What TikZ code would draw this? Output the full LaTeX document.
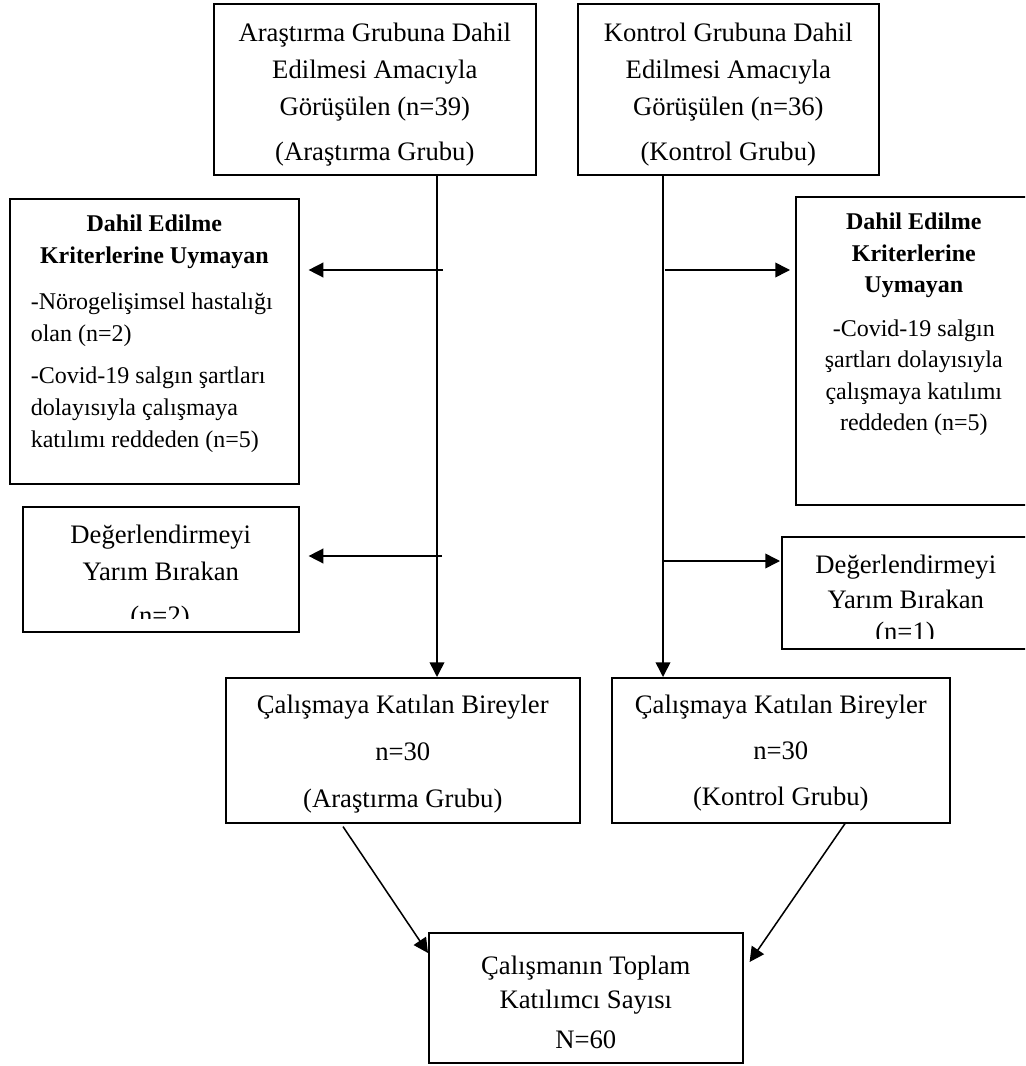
\documentclass[tikz,border=0pt]{standalone}
\usepackage{fontspec}
\setmainfont{Liberation Serif}
\usetikzlibrary{arrows.meta,calc}
\newlength\pxu
\setlength\pxu{0.75pt}
\newcommand\bxc[4]{\parbox[c][#2\pxu][t]{#1\pxu}{\vspace*{#3\pxu}#4}}
\newcommand\fst{\rule{0pt}{20\pxu}}
\tikzset{
  box/.style={draw, line width=1.2pt, inner sep=0pt, anchor=north west},
  arr/.style={line width=1.15pt, -{Triangle[length=11pt,width=11pt]}},
  plain/.style={inner sep=0pt, anchor=base},
}
\begin{document}
\begin{tikzpicture}[x=0.75pt,y=-0.75pt]
\useasboundingbox (0,0) rectangle (1025,1066);
\clip (0,0) rectangle (1025,1066);

% top boxes
\node[box, font=\fontsize{20}{27.75}\selectfont] (TL) at (213,3)
  {\bxc{322}{171}{18}{\centering\fst Araştırma Grubuna Dahil\\Edilmesi Amacıyla\\Görüşülen (n=39)\\[8\pxu](Araştırma Grubu)\par}};
\node[box, font=\fontsize{20}{27.75}\selectfont] (TR) at (577,3)
  {\bxc{301}{171}{18}{\centering\fst Kontrol Grubuna Dahil\\Edilmesi Amacıyla\\Görüşülen (n=36)\\[8\pxu](Kontrol Grubu)\par}};

% criteria boxes
\node[box, font=\fontsize{18}{24}\selectfont] (CL) at (9,198)
  {\bxc{289}{285}{13}{{\centering\bfseries\fst Dahil Edilme\\Kriterlerine Uymayan\par}\vspace{14\pxu}{\raggedright\leftskip=21\pxu -Nörogelişimsel hastalığı\\olan (n=2)\par}\vspace{10\pxu}{\raggedright\leftskip=21\pxu -Covid-19 salgın şartları\\dolayısıyla çalışmaya\\katılımı reddeden (n=5)\par}}};
\node[box, font=\fontsize{18}{23.625}\selectfont] (CR) at (795,196)
  {\bxc{236}{308}{13}{{\centering\bfseries\fst Dahil Edilme\\Kriterlerine\\Uymayan\par}\vspace{12\pxu}{\centering -Covid-19 salgın\\şartları dolayısıyla\\çalışmaya katılımı\\reddeden (n=5)\par}}};

% drop-out boxes
\node[box, font=\fontsize{20}{27.75}\selectfont] (DL) at (22,506)
  {\bxc{276}{125}{17}{\centering\fst Değerlendirmeyi\\Yarım Bırakan\par}};
\begin{scope}
  \clip (22,506) rectangle (298,618);
  \node[plain, font=\fontsize{20}{24}\selectfont] (DLn) at (160,624) {(n=2)};
\end{scope}
\node[box, font=\fontsize{20}{26.25}\selectfont] (DR) at (781,536)
  {\bxc{248}{112}{17}{\centering\fst Değerlendirmeyi\\Yarım Bırakan\par}};
\begin{scope}
  \clip (781,536) rectangle (1029,638);
  \node[plain, font=\fontsize{20}{24}\selectfont] (DRn) at (905,640) {(n=1)};
\end{scope}

% middle boxes
\node[box, font=\fontsize{20}{35.25}\selectfont] (ML) at (225,677)
  {\bxc{354}{145}{16}{\centering\fst Çalışmaya Katılan Bireyler\\n=30\\(Araştırma Grubu)\par}};
\node[box, font=\fontsize{20}{34.5}\selectfont] (MR) at (611,677)
  {\bxc{338}{145}{16}{\centering\fst Çalışmaya Katılan Bireyler\\n=30\\(Kontrol Grubu)\par}};

% bottom box
\node[box, font=\fontsize{20}{25.5}\selectfont] (BT) at (428,932)
  {\bxc{314}{130}{22}{\centering\fst Çalışmanın Toplam\\Katılımcı Sayısı\\[6\pxu]N=60\par}};

% connectors
\coordinate (vL) at (437,0);
\coordinate (vR) at (663,0);
\draw[arr] (vL |- TL.south) -- (vL |- ML.north);
\draw[arr] (vR |- TR.south) -- (vR |- MR.north);

\coordinate (h1) at (443,270);
\coordinate (h3) at (442,556);
\coordinate (h4) at (665,270);
\coordinate (h5) at (663,561);
\draw[arr] (h1) -- ($(CL.east |- h1)+(9,0)$);
\draw[arr] (h3) -- ($(DL.east |- h3)+(9,0)$);
\draw[arr] (h4) -- ($(CR.west |- h4)+(-5,0)$);
\draw[arr] (h5) -- ($(DR.west |- h5)+(-1,0)$);

\draw[arr] ($(ML.south west)+(118,3)$) -- ($(BT.north west)+(0,21)$);
\draw[arr] ($(MR.south west)+(234,0)$) -- ($(BT.north east)+(6,30)$);
\end{tikzpicture}
\end{document}
